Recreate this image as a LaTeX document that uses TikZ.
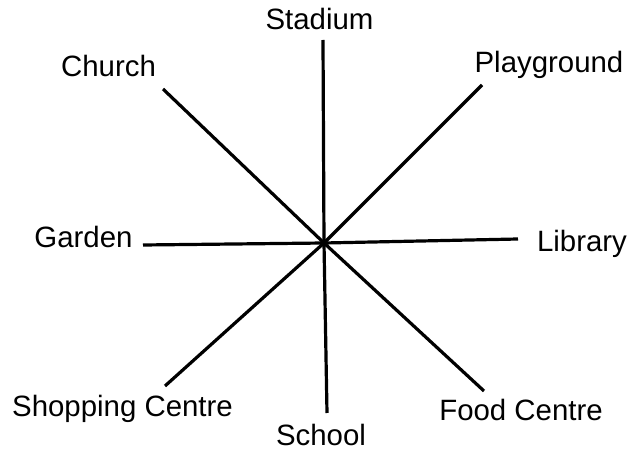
\documentclass[tikz,border=0pt]{standalone}
\usepackage{fontspec}
\setmainfont{Liberation Sans}
\begin{document}
\begin{tikzpicture}[x=0.5pt,y=-0.5pt,
  lbl/.style={anchor=base,inner sep=0pt,font=\fontsize{14.7}{17}\selectfont},
  ray/.style={line width=1.6pt,black}]
\useasboundingbox (0,0) rectangle (628,449);
\coordinate (c) at (324,243);
% line ends
\coordinate (eN) at (323,40);
\coordinate (eNW) at (163,89);
\coordinate (eNE) at (482,85);
\coordinate (eW) at (143,245);
\coordinate (eE) at (518,239);
\coordinate (eSW) at (165,386);
\coordinate (eS) at (327,413);
\coordinate (eSE) at (484,391);
% labels
\node[lbl] (stadium) at (319.5,30) {Stadium};
\node[lbl] (church) at (108.5,77) {Church};
\node[lbl] (playground) at (549,73) {Playground};
\node[lbl] (garden) at (83.5,248) {Garden};
\node[lbl] (library) at (582,252) {Library};
\node[lbl] (shopping) at (122.5,416) {Shopping Centre};
\node[lbl] (school) at (321,445) {School};
\node[lbl] (food) at (521,421) {Food Centre};
% rays
\foreach \e in {eN,eNW,eNE,eW,eE,eSW,eS,eSE}
  \draw[ray] (c) -- (\e);
\end{tikzpicture}
\end{document}
